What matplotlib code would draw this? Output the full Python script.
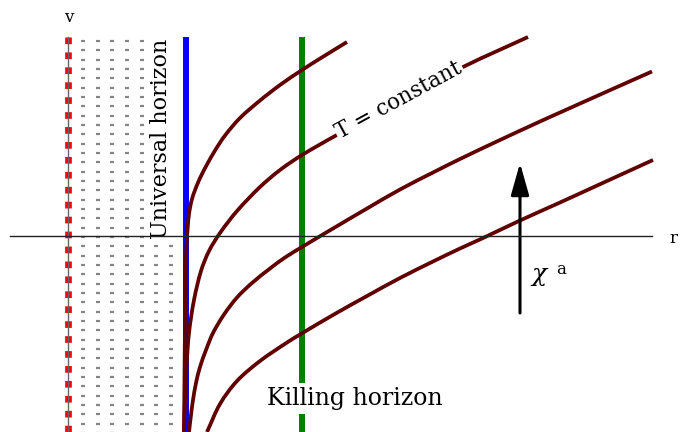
"""
plot.py - T = constant slices crossing the universal and Killing horizons.
Coordinates: r to the right, v up, origin where the two axes cross.
"""
import numpy as np
import matplotlib
matplotlib.use("Agg")
import matplotlib.pyplot as plt
from matplotlib.path import Path
from matplotlib.patches import PathPatch

plt.rcParams.update({
    "font.family": "DejaVu Serif",
    "mathtext.fontset": "dejavuserif",
})

# ── data ─────────────────────────────────────────────────────────────────────
R_MIN, R_MAX = -68, 618
V_MIN, V_MAX = -196, 236
V_TOP = 199                    # top end of the vertical lines
R_SINGULAR = 0                 # red dashed line (r = 0)
R_UNIVERSAL = 117.7            # blue line
R_KILLING = 234                # green line
R_AXIS_START, R_AXIS_END = -58, 584

# T = constant slices
T1_r = [116, 116.5, 117, 117.5, 118, 118.8, 119.7, 121, 124, 129, 134, 139,
        147, 157, 172, 192, 212, 234, 257, 279]
T1_v = [-196, -140, -90, -50, -22, -5, 8, 22, 37, 51, 62, 71.5,
        85.5, 100.5, 118, 135.5, 151, 166, 180.5, 194]
T2_r = [116, 117, 118.5, 121, 126, 133, 141, 152, 169, 192, 212, 234, 267,
        332, 397, 460]
T2_v = [-196, -164, -131, -97, -64, -35, -15, 3, 25, 49, 66, 81, 100,
        136, 170, 199]
T3_r = [121, 123, 125, 128, 132, 138, 145, 156, 169, 184, 202, 217, 234, 265,
        299, 332, 365, 392, 432, 472, 492, 539, 584]
T3_v = [-196, -179, -164, -147, -131, -114, -97, -78.5, -61.5, -47, -32.5,
        -21.5, -11, 7.5, 27.5, 46.5, 63.5, 77, 96, 114.5, 123.5, 144.5, 164.5]
T4_r = [139, 152, 169, 192, 219, 232, 265, 299, 332, 365, 392, 414, 452, 492,
        539, 585]
T4_v = [-196, -168, -145, -125, -106.5, -98.5, -79, -60, -42, -25.5, -12.5,
        -2.5, 15.5, 33.5, 55, 76]
SLICES = [(T1_r, T1_v), (T2_r, T2_v), (T3_r, T3_v), (T4_r, T4_v)]

# dotted region between r = 0 and the universal horizon
DOT_COLS = [15, 29.7, 44.3, 59, 73.7, 88.3, 103]
DOT_ROW_TOP, DOT_ROW_STEP = 195, 9.33

# Killing vector arrow
ARROW_R = 452
ARROW_V0, ARROW_V1 = -77, 73

SLICE_COLOR = "#600000"


def smooth_path(r, v):
    """Bezier path passing through the read points (tangents from neighbours)."""
    p = np.column_stack([r, v]).astype(float)
    tang = np.empty_like(p)
    tang[1:-1] = p[2:] - p[:-2]
    tang[0] = p[1] - p[0]
    tang[-1] = p[-1] - p[-2]
    tang /= np.linalg.norm(tang, axis=1)[:, None]
    verts, codes = [p[0]], [Path.MOVETO]
    for i in range(len(p) - 1):
        d = np.linalg.norm(p[i + 1] - p[i]) / 3.0
        verts += [p[i] + tang[i] * d, p[i + 1] - tang[i + 1] * d, p[i + 1]]
        codes += [Path.CURVE4] * 3
    return Path(verts, codes)


fig = plt.figure(figsize=(6.86, 4.32), dpi=100)
ax = fig.add_axes([0, 0, 1, 1])
ax.set_xlim(R_MIN, R_MAX)
ax.set_ylim(V_MIN, V_MAX)
ax.axis("off")

# dotted region
rows = np.arange(DOT_ROW_TOP, V_MIN - 1, -DOT_ROW_STEP)
gr, gv = np.meshgrid(DOT_COLS, rows)
ax.plot(gr.ravel(), gv.ravel(), linestyle="none", marker="_", ms=3.3,
        mew=1.6, color="#858585", zorder=1)

# horizons
ax.plot([R_SINGULAR, R_SINGULAR], [V_TOP, V_MIN], color="#ff0000", lw=4.8,
        linestyle=(0, (1.0, 1.24)), zorder=2)
ax.plot([R_SINGULAR, R_SINGULAR], [V_TOP, V_MIN], color="#666666", lw=1.0,
        zorder=3)
ax.plot([R_UNIVERSAL, R_UNIVERSAL], [V_TOP, V_MIN], color="#0000ff", lw=4.3,
        solid_capstyle="butt", zorder=2)
ax.plot([R_KILLING, R_KILLING], [V_TOP, V_MIN], color="#008000", lw=4.3,
        solid_capstyle="butt", zorder=2)

# T = constant slices
for r, v in SLICES:
    ax.add_patch(PathPatch(smooth_path(r, v), facecolor="none",
                           edgecolor=SLICE_COLOR, lw=2.7, capstyle="butt",
                           zorder=4))

# r axis
ax.plot([R_AXIS_START, R_AXIS_END], [0, 0], color="#222222", lw=1.0, zorder=6)

# arrow chi^a
ax.annotate("", xy=(ARROW_R, ARROW_V1), xytext=(ARROW_R, ARROW_V0),
            arrowprops=dict(arrowstyle="-|>,head_length=1.95,head_width=0.55",
                            mutation_scale=10, lw=2.2, color="black",
                            shrinkA=0, shrinkB=0), zorder=5)

white = dict(facecolor="white", edgecolor="none", pad=1.0)
ax.text(93, 97, "Universal horizon", rotation=90, ha="center", va="center",
        fontsize=16, bbox=white, zorder=5)
ax.text(287, -169, "Killing horizon", ha="center", va="baseline",
        fontsize=17, bbox=dict(facecolor="white", edgecolor="none", pad=3),
        zorder=5)
ax.text(331, 136, "T = constant", rotation=28.5, rotation_mode="anchor",
        ha="center", va="center", fontsize=15.5, bbox=white, zorder=5)
ax.text(472, -41, r"$\chi$", ha="center", va="center", fontsize=18, zorder=5)
ax.text(493, -33, "a", ha="center", va="center", fontsize=12, zorder=5)
ax.text(1, 219, "v", ha="center", va="center", fontsize=12)
ax.text(605, -2, "r", ha="center", va="center", fontsize=12)

fig.savefig("out.png", dpi=100)
